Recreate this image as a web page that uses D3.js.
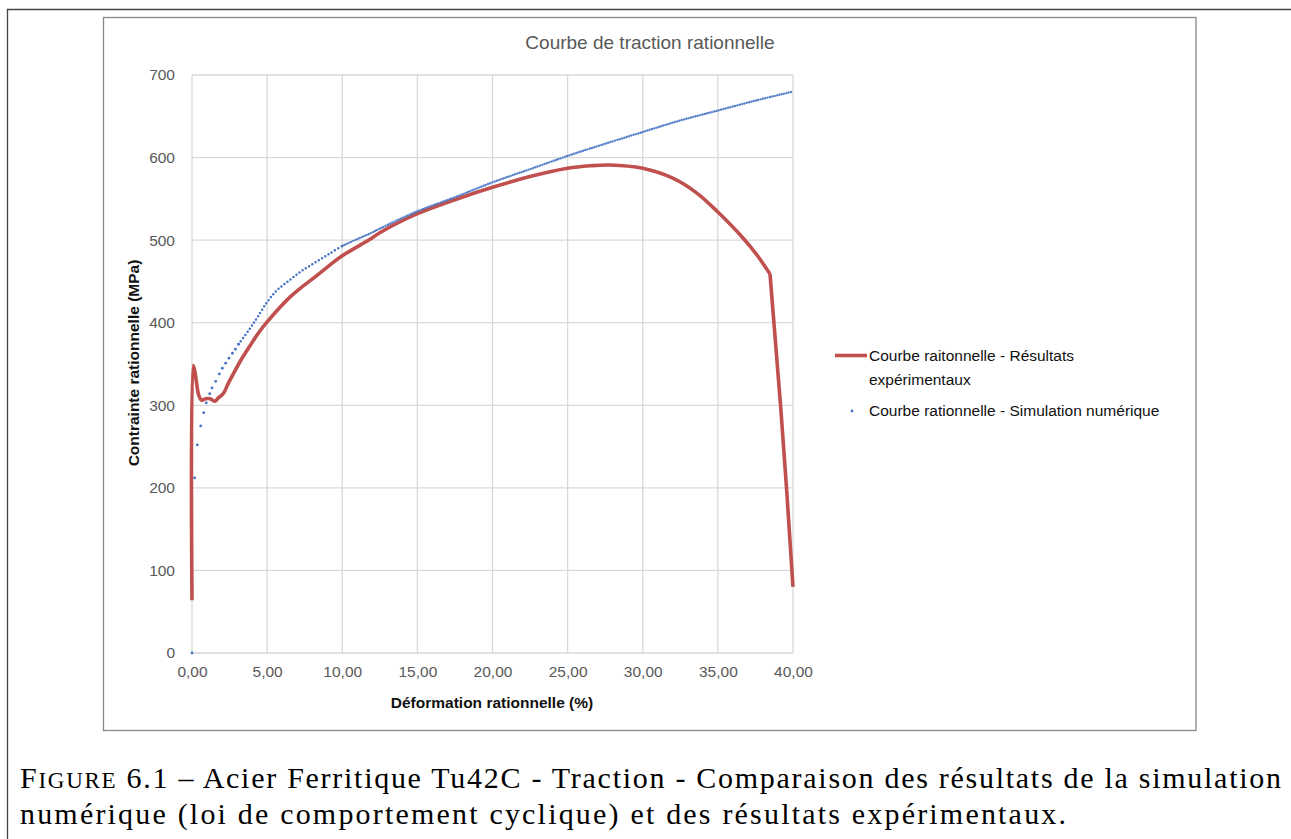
<!DOCTYPE html>
<html>
<head>
<meta charset="utf-8">
<script src="https://cdn.jsdelivr.net/npm/d3@7"></script>
<style>
  body { margin: 0; background: #fff; }
  text { font-family: "Liberation Sans", Arial, sans-serif; }
</style>
</head>
<body>
<svg id="chart" width="1291" height="839"></svg>
<script>
const xTicks = [0, 5, 10, 15, 20, 25, 30, 35, 40];
const xTickLabels = ["0,00", "5,00", "10,00", "15,00", "20,00", "25,00", "30,00", "35,00", "40,00"];
const yTicks = [0, 100, 200, 300, 400, 500, 600, 700];

// experimental curve (strain %, stress MPa)
const experimental = [
  [0, 64], [0.08, 348], [0.2, 340], [0.45, 312], [0.64, 306], [0.9, 308],
  [1.2, 308], [1.53, 305], [1.75, 309], [2.08, 314], [2.4, 326], [2.75, 338],
  [3.3, 356], [3.86, 372], [4.4, 387], [5, 401], [6.52, 431], [8.3, 457],
  [10, 481], [11.85, 501], [12.5, 509], [15, 532], [17.5, 549], [20, 564],
  [22.5, 577], [25, 587], [26.5, 590], [27.8, 591], [30, 587], [32, 575],
  [33.6, 557], [35, 534], [36.7, 502], [37.6, 482], [38.47, 459],
  [39.18, 298], [39.58, 197], [40, 80]
];

// simulation : first sparse points, then the dense part
const simStart = [
  [0, 0], [0.18, 212], [0.35, 252], [0.58, 275], [0.78, 291], [0.95, 303],
  [1.18, 314], [1.33, 321], [1.58, 329], [1.82, 338], [2.02, 345], [2.24, 351],
  [2.46, 357], [2.69, 363], [2.89, 368], [3.1, 374]
];
const simCurve = [
  [3.1, 374], [3.86, 393], [4.3, 405], [5, 425], [5.64, 439], [6.52, 452],
  [7.4, 464], [8.3, 474], [9.18, 484], [10, 493], [10.96, 501], [11.85, 508],
  [12.5, 514], [15, 535], [17.5, 552], [20, 570], [22.5, 586], [25, 602],
  [26.5, 611], [30, 631], [32.5, 645], [35, 657], [37.5, 669], [40, 680]
];

const svg = d3.select("#chart");
svg.append("rect").attr("width", 1291).attr("height", 839).attr("fill", "#fff");

// page frame and chart box
svg.append("path")
  .attr("d", "M7.5,839 V9.5 H1291")
  .attr("fill", "none").attr("stroke", "#444").attr("stroke-width", 1.3);
svg.append("rect")
  .attr("x", 103.5).attr("y", 17.5).attr("width", 1092.5).attr("height", 713)
  .attr("fill", "#fff").attr("stroke", "#888").attr("stroke-width", 1.3);

const x = d3.scaleLinear().domain([0, 40]).range([192, 793]);
const y = d3.scaleLinear().domain([0, 700]).range([653, 75]);

// grid
const grid = svg.append("g").attr("stroke", "#d9d9d9").attr("stroke-width", 1.3);
grid.selectAll(".gx").data(xTicks).join("line")
  .attr("x1", d => x(d)).attr("x2", d => x(d))
  .attr("y1", y(0)).attr("y2", y(700));
grid.selectAll(".gy").data(yTicks).join("line")
  .attr("x1", x(0)).attr("x2", x(40))
  .attr("y1", d => y(d)).attr("y2", d => y(d));

// axes
const xAxis = svg.append("g")
  .attr("transform", `translate(0,${y(0)})`)
  .call(d3.axisBottom(x).tickValues(xTicks).tickSize(0).tickPadding(13)
    .tickFormat((d, i) => xTickLabels[i]));
const yAxis = svg.append("g")
  .attr("transform", `translate(${x(0)},0)`)
  .call(d3.axisLeft(y).tickValues(yTicks).tickSize(0).tickPadding(17));
[xAxis, yAxis].forEach(a => {
  a.select(".domain").remove();
  a.selectAll("text")
    .style("font-family", '"Liberation Sans", Arial, sans-serif')
    .style("font-size", "15.5px")
    .attr("fill", "#595959");
});

// title + axis titles
svg.append("text")
  .attr("x", 650).attr("y", 49)
  .attr("text-anchor", "middle")
  .style("font-size", "19px").attr("fill", "#595959")
  .text("Courbe de traction rationnelle");
svg.append("text")
  .attr("x", 492).attr("y", 708)
  .attr("text-anchor", "middle")
  .style("font-size", "15.5px").style("font-weight", "bold").attr("fill", "#111")
  .text("Déformation rationnelle (%)");
svg.append("text")
  .attr("transform", "translate(139,363) rotate(-90)")
  .attr("text-anchor", "middle")
  .style("font-size", "15.5px").style("font-weight", "bold").attr("fill", "#111")
  .text("Contrainte rationnelle (MPa)");

// series
const smooth = d3.line().x(d => x(d[0])).y(d => y(d[1])).curve(d3.curveCatmullRom.alpha(0.5));
const straight = d3.line().x(d => x(d[0])).y(d => y(d[1]));

// red: smooth up to the necking kink, then straight drop
const kink = 38.47;
const expA = experimental.filter(d => d[0] <= kink);
const expB = experimental.filter(d => d[0] >= kink);
const red = "#C0504D";
svg.append("path").datum(expA).attr("d", smooth)
  .attr("fill", "none").attr("stroke", red)
  .attr("stroke-width", 3.6).attr("stroke-linejoin", "round");
svg.append("path").datum(expB).attr("d", straight)
  .attr("fill", "none").attr("stroke", red)
  .attr("stroke-width", 3.6).attr("stroke-linejoin", "round");

const blue = "#4472C4";
svg.append("g").selectAll("circle").data(simStart).join("circle")
  .attr("cx", d => x(d[0])).attr("cy", d => y(d[1])).attr("r", 1.4)
  .attr("fill", blue);

const simA = simCurve.filter(d => d[0] <= 10);
const simB = simCurve.filter(d => d[0] >= 10);
svg.append("path").datum(simA).attr("d", smooth)
  .attr("fill", "none").attr("stroke", blue).attr("stroke-width", 2.5)
  .attr("stroke-linecap", "round").attr("stroke-dasharray", "0 3.8");
svg.append("path").datum(simB).attr("d", smooth)
  .attr("fill", "none").attr("stroke", blue).attr("stroke-width", 2.4)
  .attr("stroke-linecap", "round").attr("stroke-dasharray", "0 2.4")
  .attr("opacity", 0.9);

// legend
const lg = svg.append("g");
lg.append("line").attr("x1", 835).attr("x2", 867).attr("y1", 355.5).attr("y2", 355.5)
  .attr("stroke", red).attr("stroke-width", 3.6);
lg.append("text").attr("x", 869).attr("y", 361).style("font-size", "15.5px").attr("fill", "#111")
  .text("Courbe raitonnelle - Résultats");
lg.append("text").attr("x", 869).attr("y", 385).style("font-size", "15.5px").attr("fill", "#111")
  .text("expérimentaux");
lg.append("circle").attr("cx", 852).attr("cy", 411).attr("r", 1.4).attr("fill", blue);
lg.append("text").attr("x", 869).attr("y", 416).style("font-size", "15.5px").attr("fill", "#111")
  .text("Courbe rationnelle - Simulation numérique");

// caption
const cap = svg.append("g").attr("fill", "#000");
const l1 = cap.append("text").attr("x", 20).attr("y", 788)
  .attr("textLength", 1261).attr("lengthAdjust", "spacing")
  .style("font-family", '"Liberation Serif", serif').style("font-size", "30px");
l1.append("tspan").text("F");
l1.append("tspan").style("font-size", "23px").text("IGURE");
l1.append("tspan").text(" 6.1 – Acier Ferritique Tu42C - Traction - Comparaison des résultats de la simulation");
cap.append("text").attr("x", 20).attr("y", 824)
  .attr("textLength", 1046).attr("lengthAdjust", "spacing")
  .style("font-family", '"Liberation Serif", serif').style("font-size", "30px")
  .text("numérique (loi de comportement cyclique) et des résultats expérimentaux.");
</script>
</body>
</html>
